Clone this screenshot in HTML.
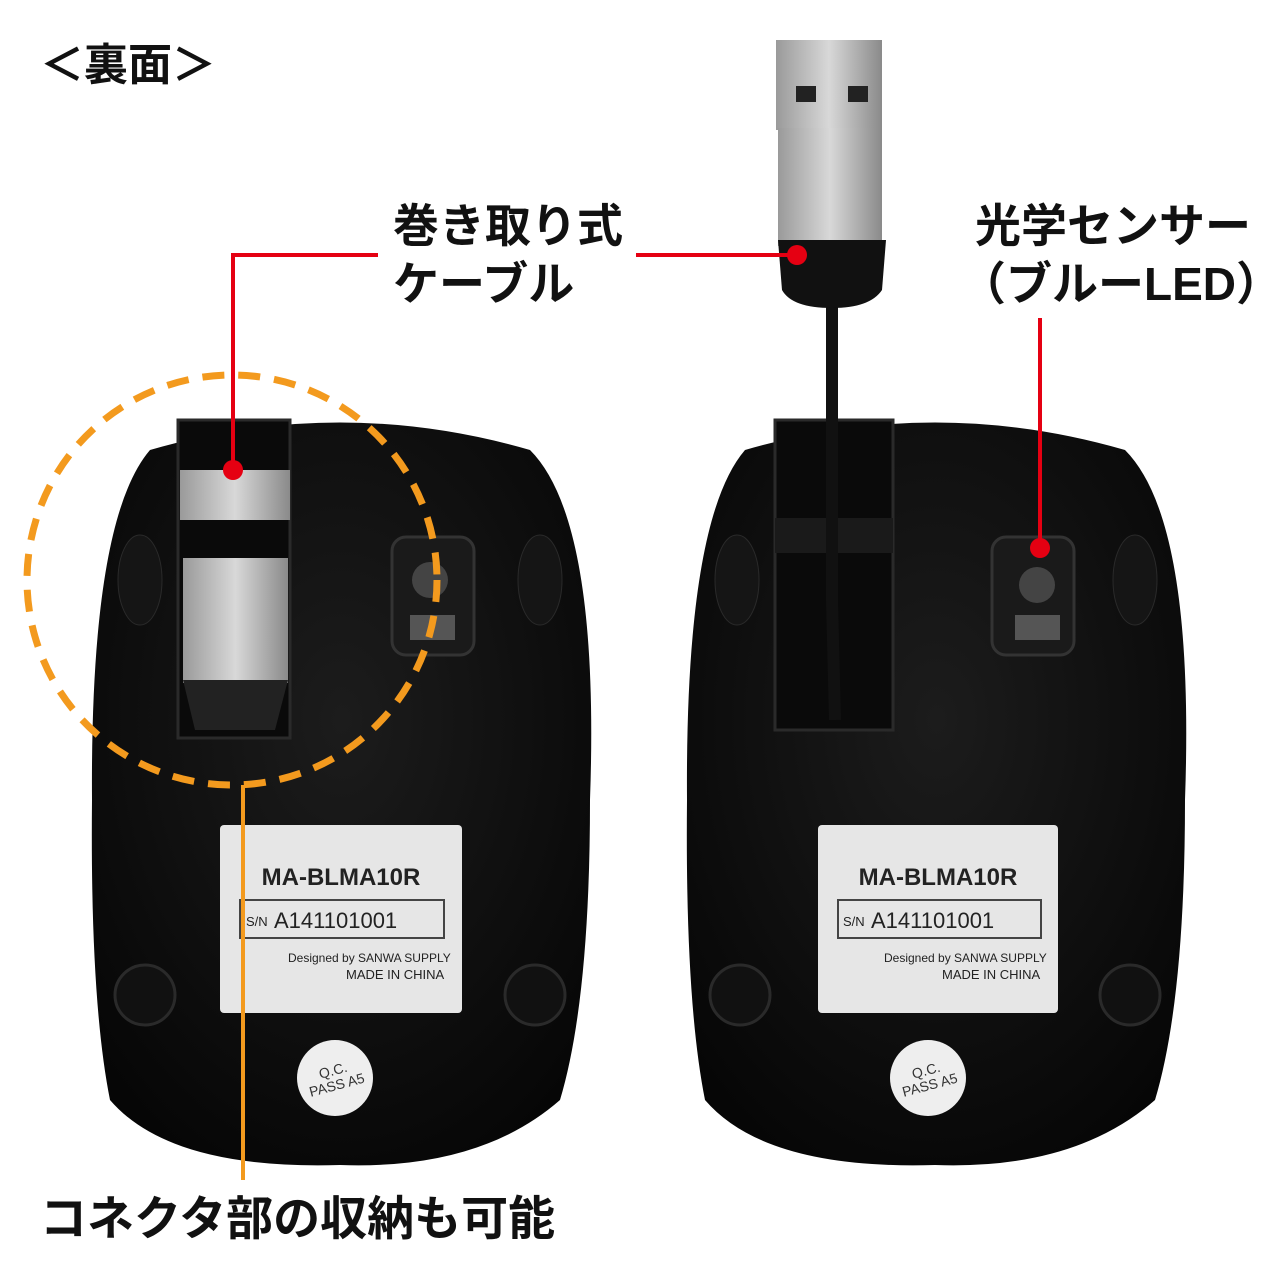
<!DOCTYPE html>
<html><head><meta charset="utf-8"><style>
body{margin:0;width:1280px;height:1280px;background:#fff;overflow:hidden}
svg{display:block}
text{font-family:"Liberation Sans","Noto Sans CJK JP",sans-serif}
</style></head><body>
<svg width="1280" height="1280" viewBox="0 0 1280 1280">
<defs>
<linearGradient id="mt" x1="0" x2="1"><stop offset="0" stop-color="#9a9a9a"/><stop offset=".5" stop-color="#d8d8d8"/><stop offset="1" stop-color="#8a8a8a"/></linearGradient>
<radialGradient id="bd" cx=".5" cy=".4" r=".7"><stop offset="0" stop-color="#1c1c1c"/><stop offset="1" stop-color="#050505"/></radialGradient>
</defs>
<text x="40" y="80" font-size="44" font-weight="bold" fill="#111">＜裏面＞</text>
<path d="M150 450 Q340 395 530 450 Q600 520 590 800 Q590 1000 560 1100 Q480 1170 340 1165 Q170 1170 110 1100 Q90 1000 92 800 Q90 520 150 450Z" fill="url(#bd)"/>
<rect x="178" y="420" width="112" height="318" fill="#0a0a0a" stroke="#2a2a2a" stroke-width="3"/>
<rect x="180" y="470" width="110" height="50" fill="url(#mt)"/>
<rect x="183" y="558" width="105" height="125" fill="url(#mt)"/>
<path d="M183 680 L288 680 L275 730 L195 730Z" fill="#222"/>
<ellipse cx="140" cy="580" rx="22" ry="45" fill="#151515" stroke="#2a2a2a"/>
<ellipse cx="540" cy="580" rx="22" ry="45" fill="#151515" stroke="#2a2a2a"/>
<rect x="392" y="537" width="82" height="118" rx="14" fill="#1a1a1a" stroke="#333" stroke-width="3"/>
<circle cx="430" cy="580" r="18" fill="#444"/><rect x="410" y="615" width="45" height="25" fill="#555"/>
<circle cx="145" cy="995" r="30" fill="#111" stroke="#2a2a2a" stroke-width="3"/>
<circle cx="535" cy="995" r="30" fill="#111" stroke="#2a2a2a" stroke-width="3"/>
<rect x="220" y="825" width="242" height="188" rx="4" fill="#e6e6e6"/>
<text x="341" y="885" font-size="24" font-weight="bold" text-anchor="middle" fill="#222">MA-BLMA10R</text>
<rect x="240" y="900" width="204" height="38" fill="none" stroke="#444" stroke-width="2"/>
<text x="246" y="926" font-size="13" fill="#222">S/N</text><text x="274" y="928" font-size="22" fill="#222">A141101001</text>
<text x="288" y="962" font-size="12" fill="#222">Designed by  SANWA SUPPLY</text>
<text x="346" y="979" font-size="13" fill="#222">MADE IN CHINA</text>
<circle cx="335" cy="1078" r="38" fill="#eee"/>
<text x="335" y="1075" font-size="14" text-anchor="middle" fill="#333" transform="rotate(-15 335 1078)">Q.C.</text>
<text x="335" y="1090" font-size="14" text-anchor="middle" fill="#333" transform="rotate(-15 335 1078)">PASS A5</text>
<path d="M745 450 Q935 395 1125 450 Q1195 520 1185 800 Q1185 1000 1155 1100 Q1075 1170 935 1165 Q765 1170 705 1100 Q685 1000 687 800 Q685 520 745 450Z" fill="url(#bd)"/>
<rect x="775" y="420" width="118" height="310" fill="#0a0a0a" stroke="#2a2a2a" stroke-width="3"/>
<rect x="775" y="518" width="118" height="35" fill="#1a1a1a"/>
<ellipse cx="737" cy="580" rx="22" ry="45" fill="#151515" stroke="#2a2a2a"/>
<ellipse cx="1135" cy="580" rx="22" ry="45" fill="#151515" stroke="#2a2a2a"/>
<rect x="992" y="537" width="82" height="118" rx="14" fill="#1a1a1a" stroke="#333" stroke-width="3"/>
<circle cx="1037" cy="585" r="18" fill="#444"/><rect x="1015" y="615" width="45" height="25" fill="#555"/>
<circle cx="740" cy="995" r="30" fill="#111" stroke="#2a2a2a" stroke-width="3"/>
<circle cx="1130" cy="995" r="30" fill="#111" stroke="#2a2a2a" stroke-width="3"/>
<rect x="818" y="825" width="240" height="188" rx="4" fill="#e6e6e6"/>
<text x="938" y="885" font-size="24" font-weight="bold" text-anchor="middle" fill="#222">MA-BLMA10R</text>
<rect x="838" y="900" width="203" height="38" fill="none" stroke="#444" stroke-width="2"/>
<text x="843" y="926" font-size="13" fill="#222">S/N</text><text x="871" y="928" font-size="22" fill="#222">A141101001</text>
<text x="884" y="962" font-size="12" fill="#222">Designed by  SANWA SUPPLY</text>
<text x="942" y="979" font-size="13" fill="#222">MADE IN CHINA</text>
<circle cx="928" cy="1078" r="38" fill="#eee"/>
<text x="928" y="1075" font-size="14" text-anchor="middle" fill="#333" transform="rotate(-15 928 1078)">Q.C.</text>
<text x="928" y="1090" font-size="14" text-anchor="middle" fill="#333" transform="rotate(-15 928 1078)">PASS A5</text>
<path d="M832 300 L832 600 L835 720" stroke="#111" stroke-width="12" fill="none"/>
<rect x="776" y="40" width="106" height="90" fill="url(#mt)"/>
<rect x="796" y="86" width="20" height="16" fill="#222"/><rect x="848" y="86" width="20" height="16" fill="#222"/>
<rect x="778" y="128" width="104" height="118" fill="url(#mt)"/>
<path d="M778 240 L886 240 L882 290 Q870 308 832 308 Q792 308 782 290Z" fill="#111"/>
<circle cx="232" cy="580" r="205" fill="none" stroke="#f39a1e" stroke-width="7" stroke-dasharray="22 14"/>
<line x1="243" y1="785" x2="243" y2="1180" stroke="#f39a1e" stroke-width="4"/>
<polyline points="378,255 233,255 233,470" fill="none" stroke="#e50012" stroke-width="4"/>
<circle cx="233" cy="470" r="10" fill="#e50012"/>
<line x1="636" y1="255" x2="797" y2="255" stroke="#e50012" stroke-width="4"/>
<circle cx="797" cy="255" r="10" fill="#e50012"/>
<line x1="1040" y1="318" x2="1040" y2="548" stroke="#e50012" stroke-width="4"/>
<circle cx="1040" cy="548" r="10" fill="#e50012"/>
<text x="393" y="242" font-size="46" font-weight="bold" fill="#111">巻き取り式</text>
<text x="393" y="300" font-size="46" font-weight="bold" fill="#111">ケーブル</text>
<text x="975" y="242" font-size="46" font-weight="bold" fill="#111">光学センサー</text>
<text x="960" y="300" font-size="46" font-weight="bold" fill="#111">（ブルーLED）</text>
<text x="40" y="1235" font-size="47" font-weight="bold" fill="#111">コネクタ部の収納も可能</text>
</svg>
</body></html>
